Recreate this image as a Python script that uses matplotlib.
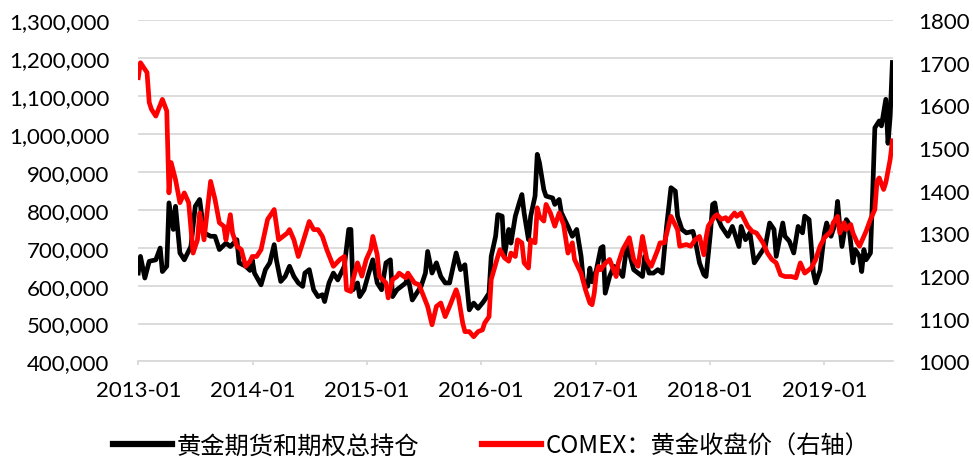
import numpy as np
import pandas as pd
import matplotlib
matplotlib.use("Agg")
import matplotlib.pyplot as plt
import matplotlib.dates as mdates
from matplotlib.ticker import FuncFormatter, MultipleLocator
from matplotlib.lines import Line2D

plt.rcParams['font.family'] = ['Lato', 'Noto Sans CJK SC', 'DejaVu Sans']

# weekly data, week number counted from 2013-01-01
hold_weeks = [0, 1, 3, 5, 8, 10, 11, 13, 14, 16, 17, 19, 21, 24, 26, 28, 30, 33, 35, 37,
              40, 42, 45, 46, 49, 51, 52, 53, 56, 58, 60, 62, 63, 65, 67, 69, 71, 73, 75, 76,
              78, 80, 82, 84, 85, 87, 89, 91, 94, 96, 97, 98, 100, 101, 103, 105, 107, 109, 111, 113,
              115, 116, 118, 120, 122, 123, 125, 126, 129, 131, 132, 134, 136, 138, 140, 142, 143, 145, 147, 149,
              151, 153, 155, 157, 158, 160, 161, 163, 164, 166, 167, 169, 170, 172, 174, 175, 176, 178, 179, 181,
              182, 183, 185, 186, 189, 190, 192, 193, 196, 198, 200, 202, 203, 205, 206, 207, 208, 209, 211, 212,
              213, 215, 217, 219, 221, 223, 224, 226, 228, 230, 231, 233, 235, 237, 239, 241, 243, 245, 246, 248,
              250, 253, 254, 256, 258, 259, 261, 262, 263, 264, 266, 268, 269, 271, 272, 274, 275, 277, 279, 281,
              284, 286, 288, 290, 291, 294, 295, 297, 299, 301, 303, 304, 306, 308, 309, 311, 313, 314, 316, 318,
              319, 320, 321, 323, 324, 326, 327, 329, 330, 331, 332, 334, 335, 336, 338, 339, 341, 342, 343, 344]
# 黄金期货和期权总持仓 (thousand)
hold_vals = [633, 677, 620, 664, 668, 699, 637, 651, 818, 748, 809, 686, 668, 703, 809, 827, 739, 730, 730, 695,
             712, 703, 721, 660, 651, 640, 668, 633, 602, 642, 660, 708, 668, 611, 624, 651, 624, 607, 598, 633,
             642, 589, 571, 576, 558, 607, 633, 615, 651, 748, 748, 589, 607, 571, 589, 630, 668, 607, 589, 660,
             668, 571, 589, 598, 607, 624, 562, 571, 598, 633, 690, 633, 660, 624, 607, 607, 633, 686, 642, 655,
             536, 554, 540, 554, 562, 580, 677, 730, 787, 783, 677, 748, 712, 783, 822, 840, 792, 721, 783, 836,
             946, 924, 853, 836, 831, 814, 827, 792, 756, 730, 748, 677, 615, 598, 646, 610, 624, 642, 699, 703,
             580, 624, 651, 642, 624, 712, 686, 642, 633, 624, 677, 633, 633, 642, 633, 756, 858, 849, 783, 748,
             739, 743, 721, 660, 629, 624, 739, 814, 818, 783, 756, 739, 730, 756, 739, 703, 756, 721, 739, 660,
             686, 703, 765, 748, 677, 765, 730, 717, 686, 756, 739, 783, 774, 633, 607, 640, 739, 765, 730, 765,
             822, 756, 703, 774, 765, 660, 695, 677, 637, 695, 668, 686, 845, 1016, 1034, 1021, 1091, 975, 1047, 1188]

price_weeks = [0, 1, 4, 5, 6, 8, 11, 13, 14, 15, 17, 19, 21, 23, 25, 27, 28, 30, 33, 35,
               37, 39, 40, 42, 43, 45, 47, 49, 51, 52, 54, 56, 59, 61, 62, 64, 66, 68, 69, 71,
               73, 75, 78, 80, 82, 84, 86, 89, 92, 94, 95, 97, 98, 100, 102, 104, 106, 107, 109, 110,
               113, 114, 116, 118, 119, 122, 123, 126, 128, 129, 132, 134, 136, 138, 140, 142, 145, 146, 148, 149,
               151, 153, 155, 157, 158, 160, 161, 164, 165, 167, 169, 170, 172, 173, 175, 176, 178, 179, 181, 182,
               183, 185, 186, 188, 190, 192, 194, 196, 198, 199, 202, 204, 206, 207, 208, 209, 210, 211, 213, 215,
               218, 219, 221, 224, 226, 228, 230, 232, 234, 237, 238, 240, 243, 246, 247, 250, 252, 254, 256, 258,
               259, 260, 261, 263, 264, 266, 268, 269, 272, 273, 275, 278, 280, 282, 285, 287, 289, 291, 293, 295,
               298, 300, 302, 304, 307, 309, 311, 313, 316, 317, 319, 320, 322, 323, 325, 326, 328, 329, 332, 334,
               336, 337, 338, 340, 341, 343, 344]
# COMEX：黄金收盘价
price_vals = [1665, 1700, 1677, 1607, 1591, 1575, 1614, 1587, 1395, 1466, 1426, 1372, 1395, 1372, 1254, 1285, 1348, 1285, 1422, 1380,
              1325, 1317, 1285, 1344, 1301, 1270, 1262, 1223, 1235, 1246, 1246, 1262, 1333, 1348, 1356, 1285, 1293, 1301, 1309, 1285,
              1246, 1278, 1328, 1309, 1309, 1293, 1262, 1223, 1239, 1246, 1168, 1164, 1192, 1231, 1200, 1239, 1262, 1293, 1250, 1199,
              1184, 1149, 1192, 1199, 1207, 1196, 1207, 1184, 1180, 1168, 1129, 1086, 1129, 1137, 1105, 1129, 1168, 1152, 1090, 1070,
              1070, 1058, 1070, 1074, 1090, 1105, 1192, 1246, 1262, 1243, 1235, 1254, 1246, 1285, 1278, 1231, 1219, 1285, 1278, 1360,
              1340, 1329, 1368, 1348, 1317, 1348, 1321, 1254, 1278, 1239, 1207, 1168, 1137, 1133, 1160, 1207, 1223, 1215, 1230, 1239,
              1199, 1231, 1262, 1290, 1239, 1223, 1293, 1239, 1223, 1262, 1278, 1278, 1340, 1309, 1270, 1274, 1270, 1285, 1293, 1250,
              1290, 1317, 1325, 1340, 1344, 1333, 1337, 1329, 1348, 1340, 1348, 1317, 1305, 1301, 1278, 1254, 1239, 1231, 1203, 1199,
              1199, 1196, 1231, 1207, 1219, 1239, 1270, 1290, 1305, 1325, 1340, 1301, 1325, 1309, 1321, 1301, 1278, 1270, 1305, 1333,
              1356, 1423, 1430, 1403, 1419, 1474, 1517]

start = pd.Timestamp('2013-01-01')
hold_dates = start + pd.to_timedelta(np.array(hold_weeks) * 7, unit='D')
price_dates = start + pd.to_timedelta(np.array(price_weeks) * 7, unit='D')

fig = plt.figure(figsize=(9.73, 4.6), dpi=100)
ax = fig.add_axes([0.1421, 0.2120, 0.7757, 0.7423])
ax2 = ax.twinx()

ax.plot(hold_dates, np.array(hold_vals) * 1000, color='black', lw=3.4, solid_joinstyle='round')
ax2.plot(price_dates, price_vals, color='#FF0000', lw=3.4, solid_joinstyle='round')

ax.set_ylim(400000, 1300000)
ax.yaxis.set_major_locator(MultipleLocator(100000))
ax.yaxis.set_major_formatter(FuncFormatter(lambda v, p: f'{int(v):,}'))
ax2.set_ylim(1000, 1800)
ax2.yaxis.set_major_locator(MultipleLocator(100))

ax.set_xlim(pd.Timestamp('2013-01-01'), pd.Timestamp('2019-08-08'))
ax.xaxis.set_major_locator(mdates.YearLocator())
ax.xaxis.set_major_formatter(mdates.DateFormatter('%Y-%m'))

ax.grid(axis='y', color='#D9D9D9', lw=1.3)
ax.set_axisbelow(True)
for s in ['top', 'left', 'right']:
    ax.spines[s].set_visible(False)
ax.spines['bottom'].set_color('#D9D9D9')
ax.spines['bottom'].set_linewidth(1.3)
for s in ax2.spines.values():
    s.set_visible(False)

ax.tick_params(axis='x', length=3, width=1.3, color='#D9D9D9', pad=10, labelsize=16)
ax.tick_params(axis='y', length=0, pad=21, labelsize=16)
ax2.tick_params(axis='y', length=0, pad=18, labelsize=16)

handles = [Line2D([], [], color='black', lw=4.5),
           Line2D([], [], color='#FF0000', lw=4.5)]
labels = ['黄金期货和期权总持仓', 'COMEX：黄金收盘价（右轴）']
fig.legend(handles, labels, loc='center', bbox_to_anchor=(0.505, 0.029), ncol=2,
           frameon=False, handlelength=2.4, handletextpad=0.2, columnspacing=2.6,
           prop={'family': ['Noto Sans CJK SC', 'DejaVu Sans'], 'size': 17.5})

fig.savefig('out.png', dpi=100)
